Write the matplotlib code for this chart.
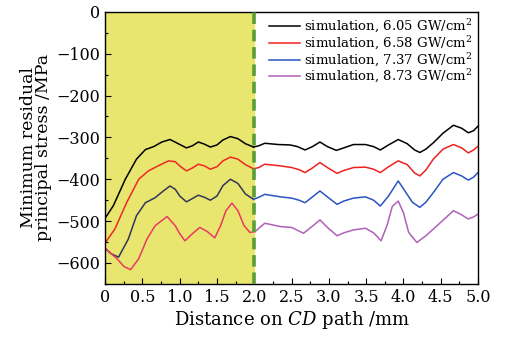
import numpy as np
import matplotlib
matplotlib.use("Agg")
import matplotlib.pyplot as plt
from matplotlib.ticker import MultipleLocator, FuncFormatter

plt.rcParams['font.family'] = ['DejaVu Serif']
plt.rcParams['mathtext.fontset'] = 'dejavuserif'

# distance on CD path (mm) and minimum residual principal stress (MPa)
x_black = [0.00, 0.11, 0.27, 0.42, 0.54, 0.65, 0.76, 0.87, 0.98, 1.09, 1.17, 1.25, 1.33, 1.41, 1.50,
           1.58, 1.68, 1.78, 1.88, 1.99, 2.06, 2.14, 2.32, 2.48, 2.58, 2.68, 2.78, 2.88, 2.98, 3.10,
           3.20, 3.33, 3.49, 3.60, 3.69, 3.80, 3.93, 4.05, 4.15, 4.22, 4.30, 4.40, 4.53, 4.67, 4.78,
           4.87, 4.94, 5.00]
y_black = [-493, -463, -400, -352, -329, -322, -311, -305, -315, -325, -320, -311, -316, -323, -318,
           -306, -298, -303, -315, -323, -320, -314, -317, -318, -322, -330, -322, -311, -322, -331,
           -325, -317, -317, -322, -330, -318, -305, -315, -330, -336, -328, -313, -290, -271, -278,
           -289, -284, -273]

x_red = [0.00, 0.13, 0.29, 0.45, 0.58, 0.71, 0.85, 0.94, 1.00, 1.09, 1.17, 1.25, 1.33, 1.41, 1.50,
         1.58, 1.68, 1.78, 1.88, 1.99, 2.06, 2.14, 2.35, 2.50, 2.60, 2.68, 2.78, 2.88, 2.98, 3.11,
         3.20, 3.33, 3.49, 3.60, 3.69, 3.80, 3.93, 4.05, 4.15, 4.22, 4.30, 4.40, 4.53, 4.67, 4.78,
         4.87, 4.94, 5.00]
y_red = [-552, -519, -455, -400, -380, -368, -356, -358, -368, -380, -373, -364, -368, -376, -370,
         -356, -347, -352, -365, -375, -372, -364, -368, -372, -377, -384, -373, -360, -372, -386,
         -379, -372, -371, -376, -384, -370, -356, -365, -385, -392, -378, -352, -328, -317, -325,
         -337, -330, -321]

x_blue = [0.00, 0.08, 0.18, 0.31, 0.42, 0.54, 0.67, 0.78, 0.87, 0.94, 1.00, 1.09, 1.17, 1.25, 1.33,
          1.41, 1.50, 1.58, 1.68, 1.78, 1.88, 1.99, 2.06, 2.14, 2.35, 2.50, 2.60, 2.68, 2.78, 2.88,
          2.98, 3.11, 3.20, 3.33, 3.49, 3.60, 3.69, 3.80, 3.93, 4.02, 4.12, 4.22, 4.30, 4.40, 4.53,
          4.67, 4.78, 4.87, 4.94, 5.00]
y_blue = [-565, -578, -586, -543, -487, -456, -444, -428, -416, -424, -440, -454, -446, -438, -443,
          -450, -440, -415, -400, -410, -435, -448, -443, -436, -442, -445, -450, -456, -442, -428,
          -442, -460, -452, -445, -442, -450, -464, -440, -404, -428, -455, -467, -455, -432, -400,
          -384, -392, -402, -395, -384]

x_mag = [0.00, 0.16, 0.25, 0.34, 0.45, 0.56, 0.67, 0.83, 0.94, 1.00, 1.07, 1.17, 1.27, 1.37, 1.47,
         1.55, 1.62, 1.70, 1.78, 1.86, 1.94, 2.01, 2.14, 2.35, 2.50, 2.66, 2.78, 2.88, 2.98, 3.11,
         3.20, 3.33, 3.49, 3.60, 3.70, 3.78, 3.85, 3.93, 4.00, 4.07, 4.18, 4.30, 4.40, 4.53, 4.67,
         4.78, 4.87, 4.94, 5.00]
y_mag = [-565, -590, -608, -616, -590, -543, -511, -489, -511, -530, -547, -530, -515, -525, -540,
         -510, -475, -457, -475, -510, -527, -525, -505, -513, -515, -529, -512, -497, -515, -535,
         -528, -521, -517, -528, -547, -510, -465, -452, -480, -527, -551, -535, -519, -498, -475,
         -485, -495, -490, -483]

labels = ['simulation, 6.05 GW/cm$^2$', 'simulation, 6.58 GW/cm$^2$',
          'simulation, 7.37 GW/cm$^2$', 'simulation, 8.73 GW/cm$^2$']
colors = ['#000000', '#f02020', '#2a55c0', '#b060b8']
# how the lines look under the yellow band
shade_colors = ['#000000', '#ee2828', '#33355a', '#e83a62']

fig = plt.figure(figsize=(5.08, 3.38), dpi=100)
ax = fig.add_axes([0.207, 0.160, 0.734, 0.805])

ax.axvspan(0, 2.0, color='#e8e66e', zorder=0)
ax.axvline(2.0, color='#5a9e3a', lw=2.6, ls=(0, (3.2, 1.6)), zorder=3)

series = [(x_black, y_black), (x_red, y_red), (x_blue, y_blue), (x_mag, y_mag)]
for (xs, ys), c, sc, lab in zip(series, colors, shade_colors, labels):
    xs = np.array(xs)
    ys = np.array(ys)
    inside = xs <= 2.01
    ax.plot(xs[inside], ys[inside], color=sc, lw=1.1, zorder=2)
    i0 = np.argmax(~inside) - 1
    ax.plot(xs[i0:], ys[i0:], color=c, lw=1.1, zorder=2, label=lab)

ax.set_xlim(0, 5)
ax.set_ylim(-650, 0)
ax.xaxis.set_major_locator(MultipleLocator(0.5))
ax.xaxis.set_minor_locator(MultipleLocator(0.25))
ax.yaxis.set_major_locator(MultipleLocator(100))
ax.yaxis.set_minor_locator(MultipleLocator(50))
ax.xaxis.set_major_formatter(FuncFormatter(lambda v, p: '0' if v == 0 else '%.1f' % v))
ax.yaxis.set_major_formatter(FuncFormatter(lambda v, p: '0' if v == 0 else '\u2212%d' % abs(v)))
ax.tick_params(which='both', direction='in', top=False, right=False, labelsize=11.5)
ax.tick_params(which='major', length=4, width=0.8)
ax.tick_params(which='minor', length=2.5, width=0.8)
for s in ax.spines.values():
    s.set_linewidth(1.0)

ax.set_xlabel('Distance on $CD$ path /mm', fontsize=13, labelpad=2)
ax.set_ylabel('Minimum residual\nprincipal stress /MPa', fontsize=12.5, labelpad=3, linespacing=0.85)

ax.legend(loc='upper right', frameon=False, fontsize=9.5, handlelength=2.3, handletextpad=0.3,
          labelspacing=-0.05, borderaxespad=0.15, borderpad=0.3)

fig.savefig('out.png', dpi=100)
